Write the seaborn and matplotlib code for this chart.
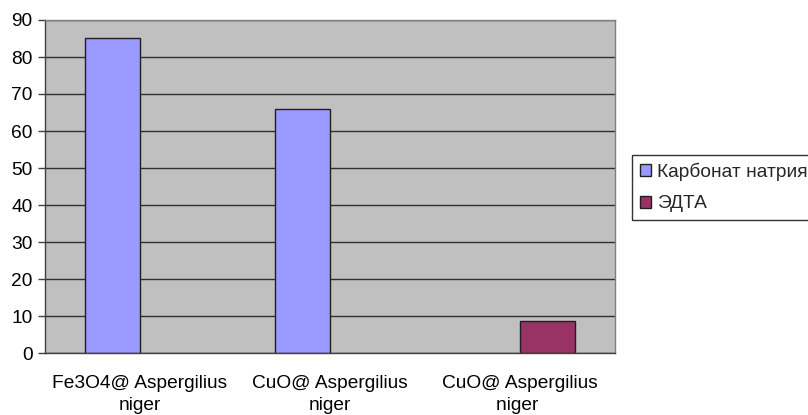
import matplotlib
matplotlib.use("Agg")
import matplotlib.pyplot as plt
import seaborn as sns
import pandas as pd
import numpy as np

categories = ["Fe3O4@ Aspergilius\nniger", "CuO@ Aspergilius\nniger", "CuO@ Aspergilius\nniger "]
series_names = ["Карбонат натрия", "ЭДТА"]
carbonate = [85, 66, None]
edta = [None, None, 8.6]
yticks = [0, 10, 20, 30, 40, 50, 60, 70, 80, 90]
colors = ["#9999FF", "#993366"]

rows = []
for cat, v in zip(categories, carbonate):
    rows.append({"cat": cat, "series": series_names[0], "val": v})
for cat, v in zip(categories, edta):
    rows.append({"cat": cat, "series": series_names[1], "val": v})
df = pd.DataFrame(rows)

sns.set_theme(style="white")
plt.rcParams["font.family"] = ["Liberation Sans", "DejaVu Sans"]

FS = 13.8

fig = plt.figure(figsize=(8.08, 4.15), dpi=100)
ax = fig.add_axes([45/808, 1-353/415, (615-45)/808, (353-20)/415])
ax.set_facecolor("#C0C0C0")

sns.barplot(data=df, x="cat", y="val", hue="series", order=categories,
            hue_order=series_names, palette=colors, width=0.575, dodge=True,
            edgecolor="#202020", linewidth=1.0, saturation=1, ax=ax, legend=False,
            errorbar=None)

ax.set_xlim(-0.5, 2.5)
ax.set_ylim(0, 90)
ax.set_yticks(yticks)
ax.set_yticklabels([str(t) for t in yticks], fontsize=FS, color="black")
ax.yaxis.grid(True, color="#303030", linewidth=1.0)
ax.set_axisbelow(True)
ax.set_xlabel("")
ax.set_ylabel("")

ax.set_xticks(range(len(categories)))
ax.set_xticklabels(categories, fontsize=FS, color="black", linespacing=1.35)
ax.set_xticks([-0.5, 0.5, 1.5, 2.5], minor=True)
ax.tick_params(axis="x", which="major", length=0, pad=16)
ax.tick_params(axis="x", which="minor", length=5, width=1, color="#404040", direction="out")
ax.tick_params(axis="y", which="major", length=5, width=1, color="#404040", direction="out", pad=4, left=True)

for s in ["top", "right"]:
    ax.spines[s].set_color("#808080")
    ax.spines[s].set_linewidth(1.0)
for s in ["left", "bottom"]:
    ax.spines[s].set_color("#404040")
    ax.spines[s].set_linewidth(1.0)

from matplotlib.patches import Patch
handles = [Patch(facecolor=c, edgecolor="#202020", linewidth=1.0) for c in colors]
leg = fig.legend(handles, series_names, loc="upper left",
                 bbox_to_anchor=(632/808, 1-155/415), fontsize=FS,
                 frameon=True, fancybox=False, edgecolor="black",
                 handlelength=0.6, handleheight=0.6, handletextpad=0.3,
                 borderpad=0.4, labelspacing=0.75, borderaxespad=0)
leg.get_frame().set_linewidth(1.0)

fig.savefig("out.png", dpi=100)
